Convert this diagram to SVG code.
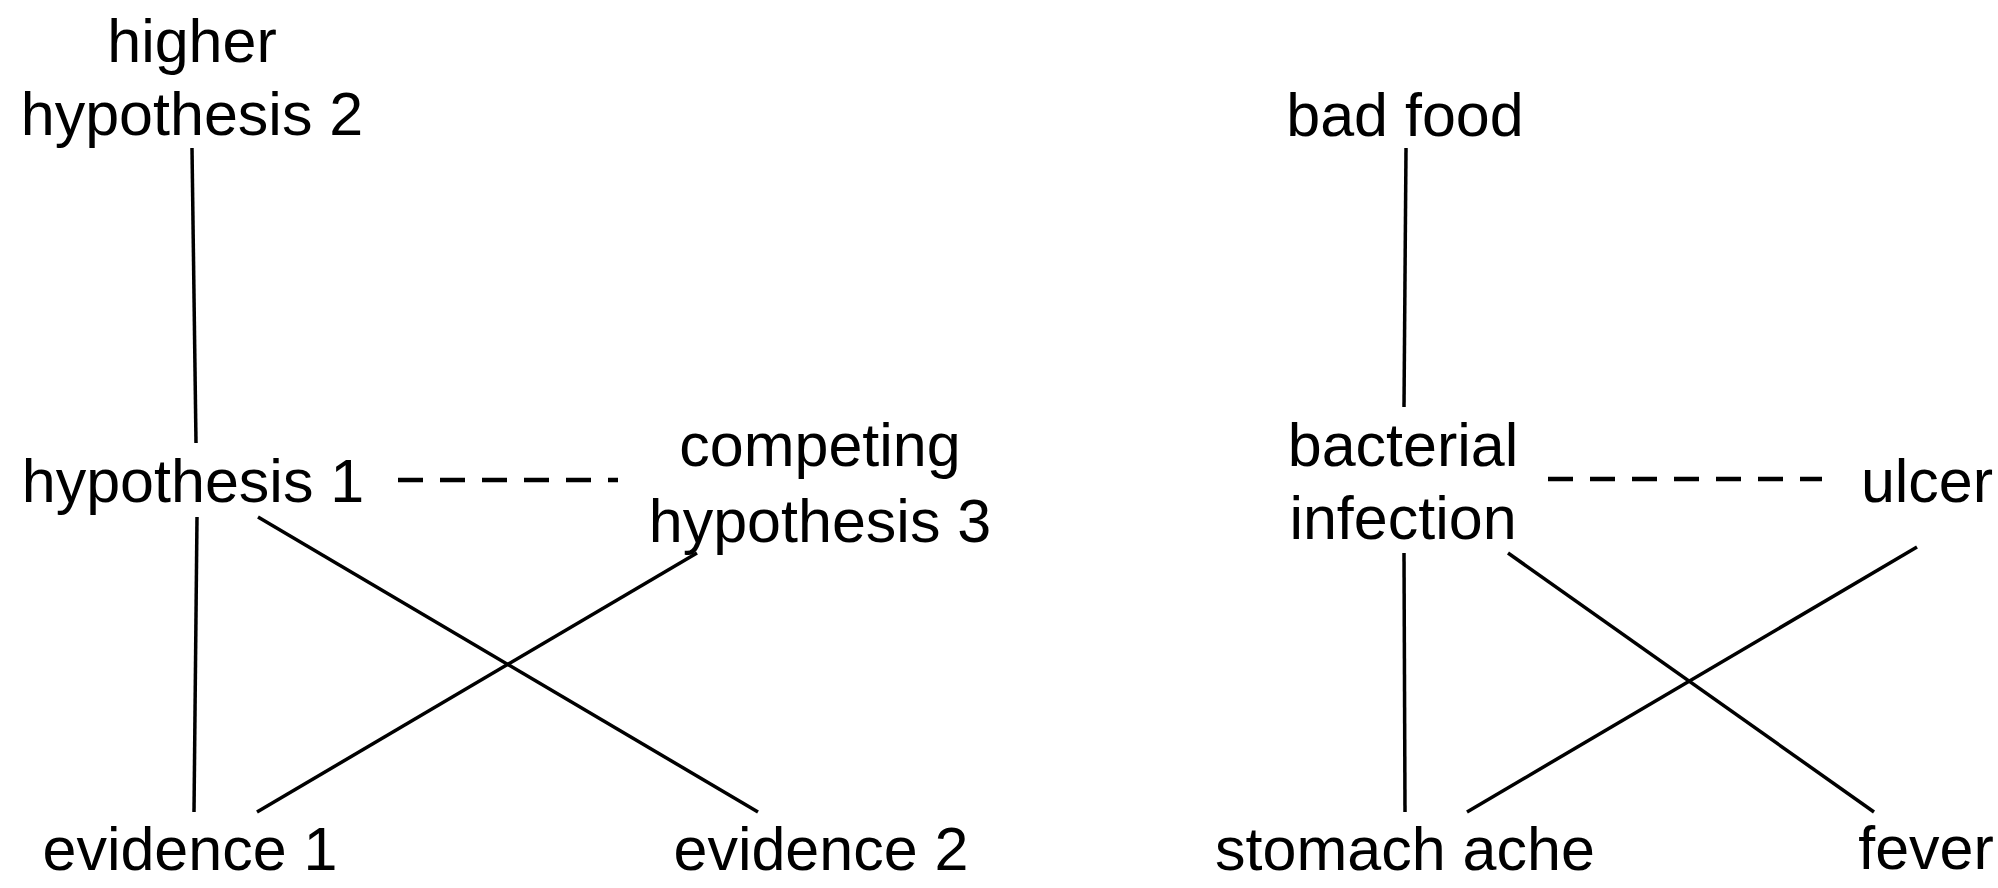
<svg xmlns="http://www.w3.org/2000/svg" width="1998" height="888" viewBox="0 0 1998 888">
<style>
text{font-family:"Liberation Sans",Arial,Helvetica,sans-serif;font-size:61px;fill:#000;text-anchor:middle}
.l{stroke:#000;stroke-width:3.5;fill:none;stroke-linecap:butt}
.d{stroke:#000;stroke-width:4.5;fill:none;stroke-dasharray:25 17}
</style>
<rect width="1998" height="888" fill="#fff"/>
<g id="connectors">
<line class="l" x1="192" y1="148" x2="196" y2="443"/>
<line class="l" x1="197" y1="517" x2="194" y2="812"/>
<line class="l" x1="258" y1="517" x2="758" y2="812"/>
<line class="l" x1="697" y1="553" x2="257" y2="812"/>
<line class="d" x1="398" y1="480" x2="618" y2="480"/>
<line class="l" x1="1406" y1="148" x2="1404" y2="407"/>
<line class="l" x1="1404" y1="553" x2="1405" y2="812"/>
<line class="l" x1="1508" y1="553" x2="1874" y2="812"/>
<line class="l" x1="1917" y1="547" x2="1467" y2="812"/>
<line class="d" x1="1548" y1="479" x2="1822" y2="479"/>
</g>
<g id="n-higher-hypothesis-2"><text x="192" y="62">higher</text><text x="192" y="135">hypothesis 2</text></g>
<g id="n-hypothesis-1"><text x="193" y="502">hypothesis 1</text></g>
<g id="n-competing-hypothesis-3"><text x="820" y="466">competing</text><text x="820" y="542">hypothesis 3</text></g>
<g id="n-evidence-1"><text x="190" y="870">evidence 1</text></g>
<g id="n-evidence-2"><text x="821" y="870">evidence 2</text></g>
<g id="n-bad-food"><text x="1405" y="136">bad food</text></g>
<g id="n-bacterial-infection"><text x="1403" y="466">bacterial</text><text x="1403" y="539">infection</text></g>
<g id="n-ulcer"><text x="1927" y="502">ulcer</text></g>
<g id="n-stomach-ache"><text x="1405" y="870">stomach ache</text></g>
<g id="n-fever"><text x="1926" y="869">fever</text></g>
</svg>
